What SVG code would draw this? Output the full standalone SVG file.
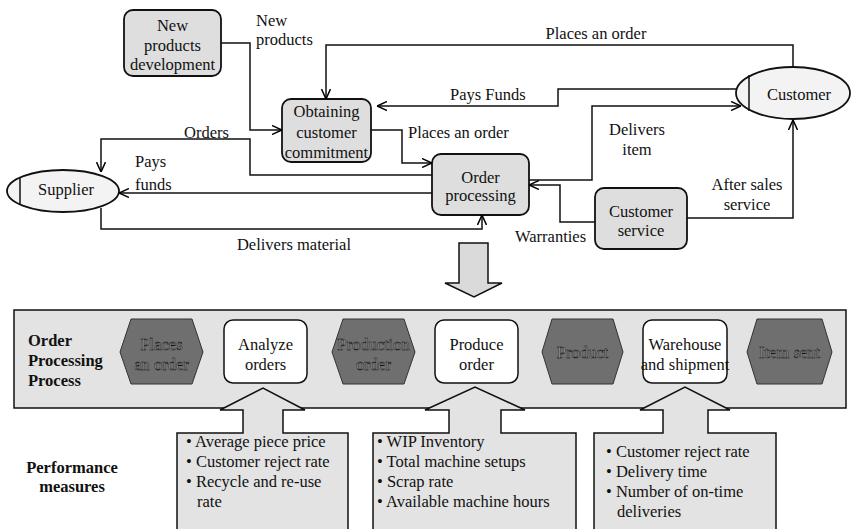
<svg xmlns="http://www.w3.org/2000/svg" width="851" height="529" viewBox="0 0 851 529" font-family="'Liberation Serif', 'DejaVu Serif', serif">
<defs>
<marker id="arr" viewBox="0 0 10 10" refX="10" refY="5" markerWidth="10" markerHeight="10" markerUnits="userSpaceOnUse" orient="auto">
<path d="M0,0.5 L10,5 L0,9.5" fill="none" stroke="#000" stroke-width="1.5"/>
</marker>
</defs>
<style>
text{font-family:'Liberation Serif','DejaVu Serif',serif;font-size:16.5px;fill:#111}
.c{text-anchor:middle}
.b{font-weight:bold}
.node{fill:#dedede;stroke:#111;stroke-width:1.8}
.ell{fill:#f3f3f3;stroke:#111;stroke-width:1.8}
.wbox{fill:#fff;stroke:#111;stroke-width:1.5}
.hex{fill:#6f6f6f;stroke:#333;stroke-width:1}
.ht{fill:#a8a8a8;stroke:#111;stroke-width:0.5}
.band{fill:#e3e3e3;stroke:#111;stroke-width:1.5}
.con{fill:none;stroke:#111;stroke-width:1.5;marker-end:url(#arr)}
.ln{fill:none;stroke:#111;stroke-width:1.5}
</style>
<rect width="851" height="529" fill="#fff"/>

<!-- top section nodes -->
<g id="new-products-development">
<rect class="node" x="124" y="10" width="97" height="66" rx="9"/>
<text class="c" x="172.5" y="31">New</text>
<text class="c" x="172.5" y="51">products</text>
<text class="c" x="172.5" y="70">development</text>
</g>
<g id="obtaining-customer-commitment">
<rect class="node" x="282" y="99" width="89" height="63" rx="9"/>
<text class="c" x="326.5" y="117">Obtaining</text>
<text class="c" x="326.5" y="138">customer</text>
<text class="c" x="326.5" y="158">commitment</text>
</g>
<g id="order-processing">
<rect class="node" x="432" y="154" width="97" height="61" rx="9"/>
<text class="c" x="480.5" y="183">Order</text>
<text class="c" x="480.5" y="201">processing</text>
</g>
<g id="customer-service">
<rect class="node" x="595" y="188" width="92" height="61" rx="9"/>
<text class="c" x="641" y="217">Customer</text>
<text class="c" x="641" y="236">service</text>
</g>
<g id="customer">
<ellipse class="ell" cx="793" cy="93" rx="57" ry="26"/>
<line class="ln" x1="749" y1="75" x2="749" y2="111"/>
<text class="c" x="799" y="100">Customer</text>
</g>
<g id="supplier">
<ellipse class="ell" cx="63" cy="191" rx="56" ry="21"/>
<line class="ln" x1="20" y1="178" x2="20" y2="204"/>
<text class="c" x="66" y="195">Supplier</text>
</g>

<!-- top section connectors -->
<g id="connectors">
<path class="con" d="M221,43 H250 V130 H282"/>
<path class="con" d="M793,67 V45 H326 V99"/>
<path class="con" d="M737,89 H558 V106 H377"/>
<path class="con" d="M371,130 H402 V163 H432"/>
<path class="con" d="M529,180 H592 V106 H741"/>
<path class="con" d="M595,222 H560 V185 H529"/>
<path class="con" d="M687,218 H793 V120"/>
<path class="con" d="M432,175 H250 V139 H101 V172"/>
<path class="con" d="M432,193 H119"/>
<path class="con" d="M101,208 V229 H482 V215"/>
<!-- band arrows -->
<line class="con" x1="203" y1="353" x2="224" y2="353"/>
<line class="con" x1="307" y1="353" x2="332" y2="353"/>
<line class="con" x1="415" y1="353" x2="435" y2="353"/>
<line class="con" x1="518" y1="353" x2="542" y2="353"/>
<line class="con" x1="623" y1="353" x2="643" y2="353"/>
<line class="con" x1="727" y1="353" x2="747" y2="353"/>
</g>

<!-- connector labels -->
<g id="labels">
<text x="256" y="26">New</text>
<text x="256" y="45">products</text>
<text class="c" x="596" y="39">Places an order</text>
<text x="450" y="100">Pays Funds</text>
<text x="408" y="138">Places an order</text>
<text x="184" y="138">Orders</text>
<text x="135" y="167">Pays</text>
<text x="135" y="190">funds</text>
<text class="c" x="294" y="250">Delivers material</text>
<text class="c" x="637" y="135">Delivers</text>
<text class="c" x="637" y="155">item</text>
<text class="c" x="747" y="190">After sales</text>
<text class="c" x="747" y="210">service</text>
<text x="515" y="242">Warranties</text>
</g>

<!-- big down arrow -->
<g id="down-arrow">
<polygon points="459,243 488,243 488,283 502,283 474,297 445,283 459,283" fill="#dadada" stroke="#111" stroke-width="1.5"/>
</g>

<!-- process band -->
<g id="process-band">
<rect class="band" x="14" y="310" width="832" height="98"/>
<text class="b" x="28" y="346">Order</text>
<text class="b" x="28" y="366">Processing</text>
<text class="b" x="28" y="386">Process</text>
</g>
<g id="places-an-order">
<polygon class="hex" points="120,352 131,319 192,319 203,352 192,384 131,384"/>
<text class="c ht" x="161.5" y="350">Places</text>
<text class="c ht" x="161.5" y="370">an order</text>
</g>
<g id="analyze-orders">
<rect class="wbox" x="224" y="320" width="83" height="63" rx="9"/>
<text class="c" x="265.5" y="350">Analyze</text>
<text class="c" x="265.5" y="370">orders</text>
</g>
<g id="production-order">
<polygon class="hex" points="332,352 343,319 404,319 415,352 404,384 343,384"/>
<text class="c ht" x="373.5" y="350">Production</text>
<text class="c ht" x="373.5" y="370">order</text>
</g>
<g id="produce-order">
<rect class="wbox" x="435" y="320" width="83" height="63" rx="9"/>
<text class="c" x="476.5" y="350">Produce</text>
<text class="c" x="476.5" y="370">order</text>
</g>
<g id="product">
<polygon class="hex" points="542,352 552,319 613,319 623,352 613,384 552,384"/>
<text class="c ht" x="582.5" y="358">Product</text>
</g>
<g id="warehouse-and-shipment">
<rect class="wbox" x="643" y="320" width="84" height="63" rx="9"/>
<text class="c" x="685" y="350">Warehouse</text>
<text class="c" x="685" y="370">and shipment</text>
</g>
<g id="item-sent">
<polygon class="hex" points="747,352 757,319 822,319 832,352 822,384 757,384"/>
<text class="c ht" x="789.5" y="358">Item sent</text>
</g>

<!-- performance measures -->
<g id="performance-measures">
<text class="c b" x="72" y="473">Performance</text>
<text class="c b" x="72" y="492">measures</text>
</g>
<g id="measures-analyze">
<polygon class="band" points="177,540 177,433 243,433 243,410 220,410 263,388 305,410 283,410 283,433 348,433 348,540"/>
<text x="186" y="447">• Average piece price</text>
<text x="186" y="467">• Customer reject rate</text>
<text x="186" y="487">• Recycle and re-use</text>
<text x="197" y="507">rate</text>
</g>
<g id="measures-produce">
<polygon class="band" points="373,540 373,433 449,433 449,410 425,410 475,387 525,410 501,410 501,433 576,433 576,540"/>
<text x="377" y="447">• WIP Inventory</text>
<text x="377" y="467">• Total machine setups</text>
<text x="377" y="487">• Scrap rate</text>
<text x="377" y="507">• Available machine hours</text>
</g>
<g id="measures-warehouse">
<polygon class="band" points="594,540 594,433 663,433 663,410 640,410 685,387 730,410 708,410 708,433 776,433 776,540"/>
<text x="606" y="457">• Customer reject rate</text>
<text x="606" y="477">• Delivery time</text>
<text x="606" y="497">• Number of on-time</text>
<text x="617" y="517">deliveries</text>
</g>
</svg>
